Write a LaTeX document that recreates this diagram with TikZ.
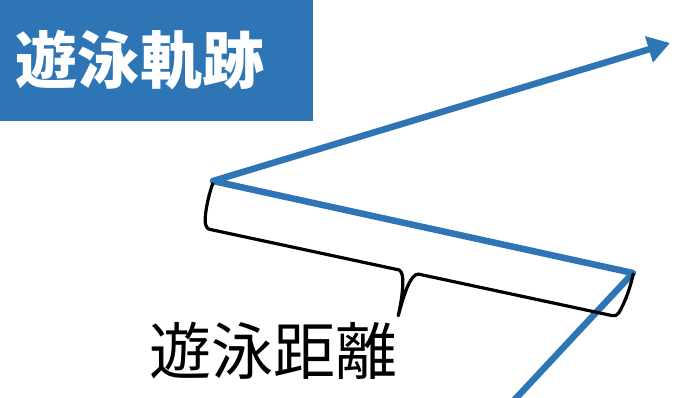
\documentclass[tikz,border=0pt]{standalone}
\usepackage{fontspec}
\newfontfamily\cjk{Noto Sans CJK JP}
\usetikzlibrary{arrows.meta,positioning}
\definecolor{swimblue}{RGB}{46,117,182}

\begin{document}
\begin{tikzpicture}[
  x=1pt, y=-1pt,
  track/.style={draw=swimblue, line width=6.5pt, line join=round, line cap=round},
  titlebox/.style={fill=swimblue, inner sep=0pt, minimum width=313pt, minimum height=121pt, anchor=north west},
  bracket/.style={draw=black, line width=3.2pt, line join=round},
  bigtext/.style={font=\cjk\fontsize{62}{62}\selectfont, inner sep=0pt}
]
\useasboundingbox (0,0) rectangle (693,397);

% Title
\node[titlebox] (titlebg) at (0,0) {};
\node[bigtext, font=\cjk\bfseries\fontsize{62}{62}\selectfont, text=white] (title) at (140,60) {遊泳軌跡};

% Trajectory points
\coordinate (entry) at (505,410);
\coordinate (turnA) at (633,273);
\coordinate (turnB) at (213,181);
\coordinate (exit) at (670,43);

\draw[track, -{Triangle[length=22pt,width=26pt]}] (entry) -- (turnA) -- (turnB) -- (exit);

% Brace under the straight leg
\begin{scope}[shift={(turnB)}, shift={(0,2)}, rotate=-12.1]
\draw[bracket] (0,0) .. controls (-2,12) and (-2,38) .. (2,43)
  .. controls (4,46) .. (9,46) -- (200,46)
  .. controls (207,47) and (209,70) .. (209,91)
  .. controls (210,65) and (213,47) .. (220,46) -- (416,46)
  .. controls (421,46) and (423,45) .. (424,42)
  .. controls (428,30) and (430,15) .. (430,0);
\coordinate (bracetip) at (209,91);
\end{scope}

\node[bigtext] (distlabel) at (273,351) {遊泳距離};
\end{tikzpicture}
\end{document}
